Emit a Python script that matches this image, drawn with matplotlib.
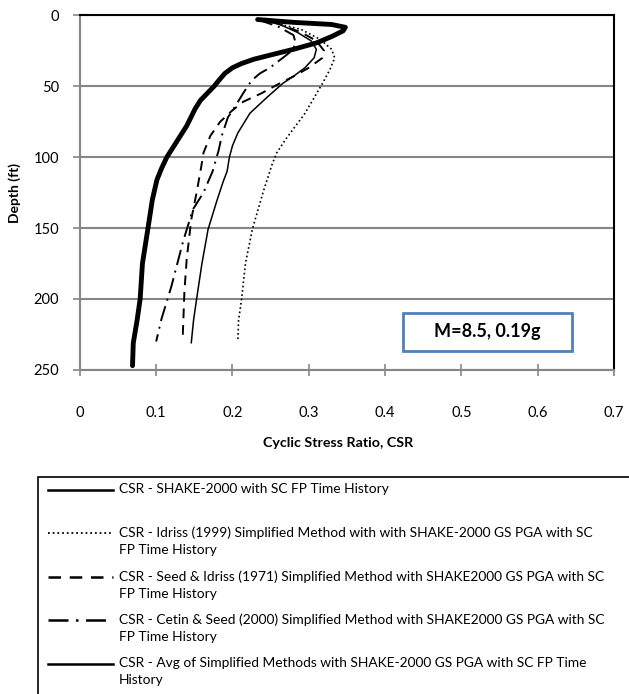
import matplotlib.pyplot as plt
from matplotlib.lines import Line2D
from matplotlib.patches import Rectangle

plt.rcParams['font.family'] = ['Lato', 'DejaVu Sans']

# CSR - SHAKE-2000 with SC FP time history (thick line)
shake_depth = [3, 5, 6.5, 8.5, 11, 15, 19.5, 24, 28, 31, 34, 37, 41, 46, 50, 55, 60, 66, 78, 89, 100, 108, 116, 130, 151, 175, 200, 215, 231, 247]
shake_csr = [0.233, 0.28, 0.33, 0.348, 0.345, 0.33, 0.31, 0.28, 0.25, 0.228, 0.212, 0.2, 0.19, 0.182, 0.176, 0.167, 0.158, 0.151, 0.14, 0.127, 0.114, 0.107, 0.101, 0.095, 0.089, 0.082, 0.079, 0.075, 0.070, 0.069]

# Idriss (1999) simplified
idriss_depth = [3, 6, 10, 17, 24, 30, 38, 48, 60, 70, 80, 88, 97, 105, 125, 151, 175, 200, 215, 230]
idriss_csr = [0.235, 0.26, 0.29, 0.315, 0.33, 0.334, 0.328, 0.318, 0.305, 0.294, 0.28, 0.269, 0.258, 0.252, 0.24, 0.226, 0.217, 0.212, 0.208, 0.207]

# Seed & Idriss (1971) simplified
seed_depth = [3, 6, 12, 18, 25, 30, 37, 42, 48, 55, 61, 67, 75, 85, 97, 107, 125, 144, 172, 195, 224, 230]
seed_csr = [0.233, 0.26, 0.29, 0.31, 0.32, 0.318, 0.30, 0.284, 0.262, 0.238, 0.214, 0.2, 0.184, 0.171, 0.162, 0.159, 0.153, 0.146, 0.14, 0.137, 0.135, 0.135]

# Cetin & Seed (2000) simplified
cetin_depth = [3, 8, 14, 20, 25, 30, 37, 41, 46, 55, 63, 72, 85, 95, 110, 125, 137, 160, 191, 214, 230]
cetin_csr = [0.233, 0.26, 0.28, 0.283, 0.278, 0.266, 0.249, 0.236, 0.225, 0.214, 0.205, 0.194, 0.186, 0.182, 0.174, 0.162, 0.148, 0.135, 0.12, 0.107, 0.1]

# Average of simplified methods
avg_depth = [3, 6, 12, 18, 24, 30, 37, 43, 48, 58, 69, 83, 92, 100, 110, 117, 130, 151, 175, 200, 215, 231]
avg_csr = [0.233, 0.26, 0.285, 0.303, 0.31, 0.307, 0.295, 0.28, 0.266, 0.245, 0.223, 0.207, 0.2, 0.196, 0.193, 0.188, 0.18, 0.168, 0.16, 0.153, 0.149, 0.146]

legend_labels = [
    'CSR - SHAKE-2000 with SC FP Time History',
    'CSR - Idriss (1999) Simplified Method with with SHAKE-2000 GS PGA with SC\nFP Time History',
    'CSR - Seed & Idriss (1971) Simplified Method with SHAKE2000 GS PGA with SC\nFP Time History',
    'CSR - Cetin & Seed (2000) Simplified Method with SHAKE2000 GS PGA with SC\nFP Time History',
    'CSR - Avg of Simplified Methods with SHAKE-2000 GS PGA with SC FP Time\nHistory',
]

gray = '#868686'

fig = plt.figure(figsize=(6.29, 6.94), dpi=100)
ax = fig.add_axes([0.127, 0.467, 0.849, 0.511])

styles = [
    dict(color='black', lw=3.5, ls='-'),
    dict(color='black', lw=1.2, ls=(0, (1, 1.6))),
    dict(color='black', lw=1.4, ls=(0, (5, 3.5))),
    dict(color='black', lw=1.4, ls=(0, (8, 3, 1, 3))),
    dict(color='black', lw=1.1, ls='-'),
]
series = [(shake_csr, shake_depth), (idriss_csr, idriss_depth), (seed_csr, seed_depth),
          (cetin_csr, cetin_depth), (avg_csr, avg_depth)]
for (x, y), st in zip(series, styles):
    ax.plot(x, y, solid_capstyle='round', solid_joinstyle='round', **st)

ax.set_xlim(0, 0.7)
ax.set_ylim(250, 0)
ax.set_xticks([0, 0.1, 0.2, 0.3, 0.4, 0.5, 0.6, 0.7])
ax.set_xticklabels(['0', '0.1', '0.2', '0.3', '0.4', '0.5', '0.6', '0.7'])
ax.set_yticks([0, 50, 100, 150, 200, 250])
ax.yaxis.grid(True, color=gray, lw=1.5)
ax.set_axisbelow(True)

for s in ['left', 'bottom']:
    ax.spines[s].set_color(gray)
    ax.spines[s].set_linewidth(1.5)
for s in ['top', 'right']:
    ax.spines[s].set_color('black')
    ax.spines[s].set_linewidth(1.5)

ax.tick_params(axis='x', direction='inout', length=8, width=1.2, color=gray, pad=22, labelsize=10.5)
ax.tick_params(axis='y', direction='out', length=5, width=1.2, color=gray, pad=10, labelsize=10.5)

ax.set_ylabel('Depth (ft)', fontsize=10, fontweight='bold', labelpad=9)
fig.text(0.537, 0.362, 'Cyclic Stress Ratio, CSR', fontsize=10.3, fontweight='bold', ha='center', va='center')

# magnitude / PGA box
ax.add_patch(Rectangle((0.605, 0.0535), 0.316, 0.107, transform=ax.transAxes,
                       facecolor='white', edgecolor='#4F81BD', lw=2, zorder=5))
ax.text(0.763, 0.107, 'M=8.5, 0.19g', transform=ax.transAxes, ha='center', va='center',
        fontsize=13, fontweight='bold', zorder=6)

# legend box drawn by hand so handles sit on the first text line
fig.add_artist(Rectangle((0.06, -0.05), 1.0, 0.363, transform=fig.transFigure,
                         facecolor='none', edgecolor='black', lw=1.2))
leg_y = [490, 533, 577, 620, 664]
leg_lw = [1.8, 1.3, 1.8, 1.8, 1.8]
for i, lab in enumerate(legend_labels):
    yf = 1 - leg_y[i] / 694
    fig.add_artist(Line2D([48 / 629, 113 / 629], [yf, yf], transform=fig.transFigure,
                          color='black', lw=leg_lw[i], ls=styles[i]['ls']))
    fig.text(119 / 629, yf + 0.0095, lab, fontsize=9.9, ha='left', va='top', linespacing=1.5)

plt.savefig('out.png', dpi=100)
